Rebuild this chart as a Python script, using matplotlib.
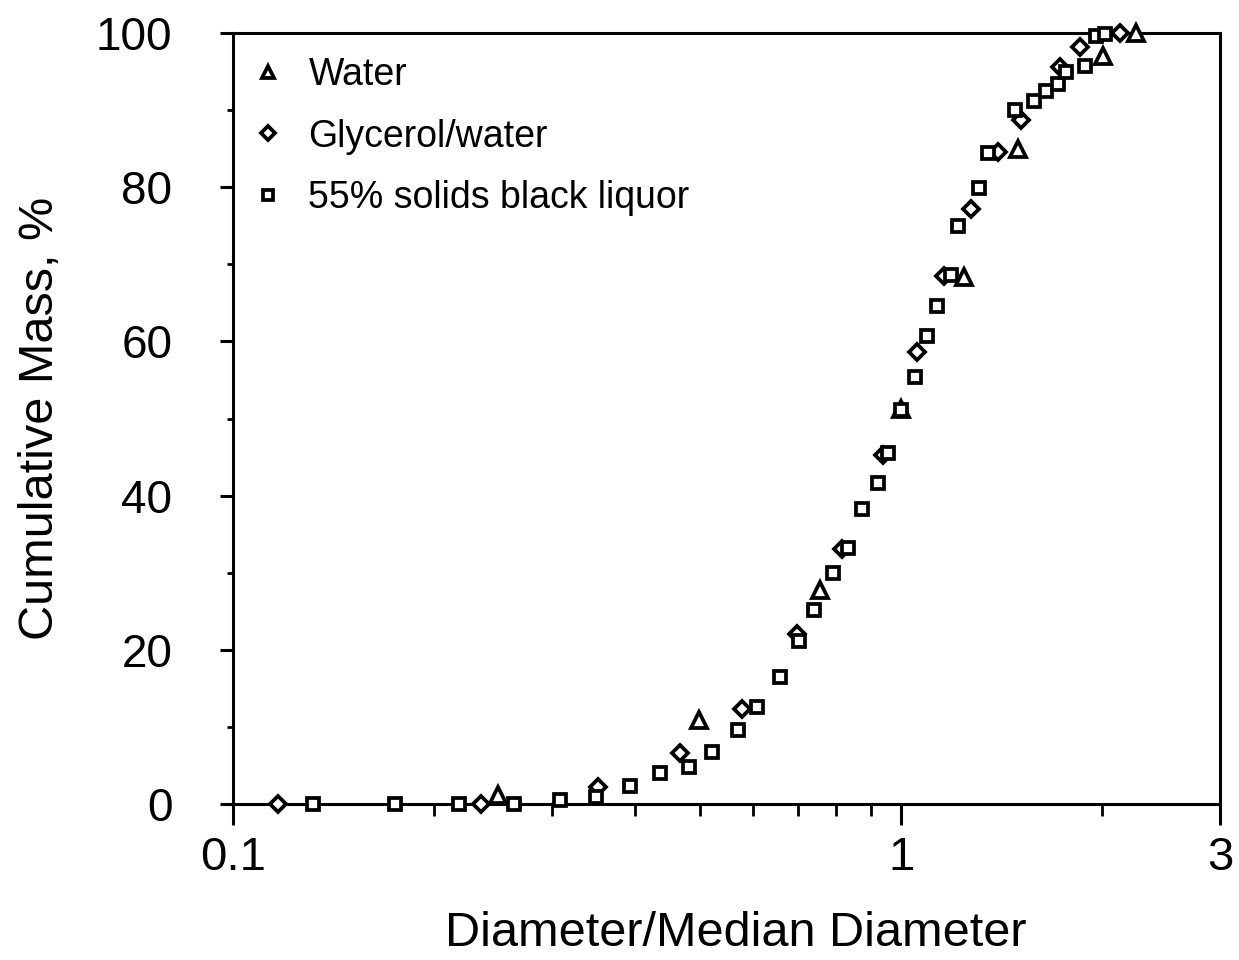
import matplotlib
matplotlib.use("Agg")
import matplotlib.pyplot as plt
from matplotlib.ticker import FixedLocator, NullFormatter

plt.rcParams['font.family'] = ['Liberation Sans', 'DejaVu Sans']

# ---- data ----
water_x = [0.249, 0.498, 0.755, 1.000, 1.243, 1.497, 2.004, 2.245]
water_y = [1.2, 10.9, 27.8, 51.2, 68.4, 85.0, 97.0, 100.0]

glycerol_x = [0.117, 0.235, 0.352, 0.467, 0.578, 0.698, 0.815, 0.941, 1.058,
              1.160, 1.273, 1.397, 1.512, 1.729, 1.852, 2.125]
glycerol_y = [0.0, 0.0, 2.2, 6.6, 12.3, 22.0, 33.1, 45.3, 58.6,
              68.5, 77.2, 84.6, 88.7, 95.6, 98.2, 100.0]

liquor_x = [0.132, 0.175, 0.218, 0.264, 0.309, 0.350, 0.393, 0.436, 0.482,
            0.521, 0.570, 0.608, 0.658, 0.703, 0.740, 0.790, 0.834, 0.875,
            0.922, 0.957, 1.000, 1.050, 1.095, 1.133, 1.189, 1.218, 1.309,
            1.350, 1.481, 1.581, 1.648, 1.717, 1.765, 1.884, 1.956, 2.018]
liquor_y = [0.0, 0.0, 0.0, 0.0, 0.5, 0.9, 2.3, 4.0, 4.8,
            6.7, 9.6, 12.6, 16.5, 21.1, 25.2, 30.0, 33.2, 38.3,
            41.6, 45.5, 51.1, 55.4, 60.7, 64.6, 68.6, 75.0, 79.9,
            84.4, 90.0, 91.2, 92.5, 93.4, 94.9, 95.7, 99.6, 99.9]

labels = ["Water", "Glycerol/water", "55% solids black liquor"]
x_major = [0.1, 1, 3]
x_major_labels = ["0.1", "1", "3"]
x_minor = [0.2, 0.3, 0.4, 0.5, 0.6, 0.7, 0.8, 0.9, 2]
y_major = [0, 20, 40, 60, 80, 100]
y_minor = [10, 30, 50, 70, 90]

fig = plt.figure(figsize=(12.39, 9.60), dpi=100)
ax = fig.add_axes([0.1878, 0.1625, 0.7969, 0.8031])

mew = 2.7
ax.plot(water_x, water_y, linestyle='none', marker='^', ms=11, mfc='white',
        mec='black', mew=mew, label=labels[0], clip_on=False, zorder=3)
ax.plot(glycerol_x, glycerol_y, linestyle='none', marker='D', ms=8.3, mfc='white',
        mec='black', mew=mew, label=labels[1], clip_on=False, zorder=3)
ax.plot(liquor_x, liquor_y, linestyle='none', marker='s', ms=8.3, mfc='white',
        mec='black', mew=mew, label=labels[2], clip_on=False, zorder=3)

ax.set_xscale('log')
ax.set_xlim(0.1, 3)
ax.set_ylim(0, 100)

ax.xaxis.set_major_locator(FixedLocator(x_major))
ax.set_xticklabels(x_major_labels)
ax.xaxis.set_minor_locator(FixedLocator(x_minor))
ax.xaxis.set_minor_formatter(NullFormatter())
ax.yaxis.set_major_locator(FixedLocator(y_major))
ax.yaxis.set_minor_locator(FixedLocator(y_minor))

for s in ax.spines.values():
    s.set_linewidth(2.2)

ax.tick_params(axis='x', which='major', direction='out', length=15, width=2.2,
               labelsize=34, pad=8)
ax.tick_params(axis='x', which='minor', direction='out', length=8.5, width=2.0)
ax.tick_params(axis='y', which='major', direction='out', length=9.5, width=2.2,
               labelsize=33, pad=34)
ax.tick_params(axis='y', which='minor', direction='out', length=4.5, width=2.0)

ax.set_xlabel("Diameter/Median Diameter", fontsize=35)
ax.set_ylabel("Cumulative Mass, %", fontsize=35)
ax.xaxis.set_label_coords(0.51, -0.139)
ax.yaxis.set_label_coords(-0.172, 0.5)

leg = ax.legend(loc='upper left', bbox_to_anchor=(0.0, 1.0), frameon=False,
                fontsize=27, markerscale=0.8, handlelength=0.6,
                handletextpad=0.79, labelspacing=0.69, borderaxespad=0.2,
                borderpad=0.43)

fig.savefig("out.png", dpi=100)
